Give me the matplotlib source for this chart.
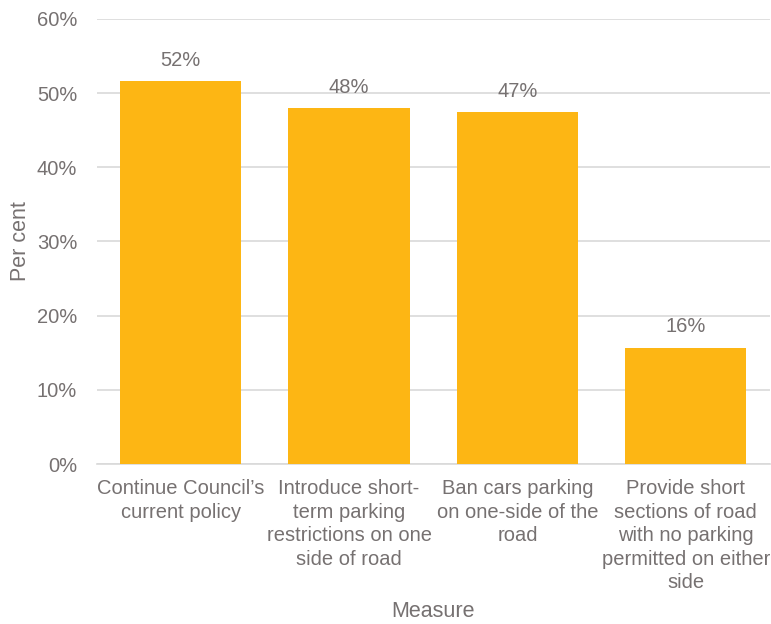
import matplotlib
matplotlib.use("Agg")
import matplotlib.pyplot as plt
from matplotlib.ticker import FuncFormatter

categories = [
    "Continue Council\u2019s\ncurrent policy",
    "Introduce short-\nterm parking\nrestrictions on one\nside of road",
    "Ban cars parking\non one-side of the\nroad",
    "Provide short\nsections of road\nwith no parking\npermitted on either\nside",
]
values = [51.6, 48.0, 47.4, 15.7]
y_ticks = [0, 10, 20, 30, 40, 50, 60]

bar_color = "#FDB614"
text_color = "#767171"
grid_color = "#D9D9D9"

plt.rcParams["font.family"] = ["Liberation Sans", "DejaVu Sans"]

fig = plt.figure(figsize=(7.71, 6.24), dpi=100)
ax = fig.add_axes([0.1252, 0.2564, 0.8735, 0.7132])

x = range(len(categories))
bars = ax.bar(x, values, width=0.72, color=bar_color, zorder=3)

for xi, v in zip(x, values):
    ax.text(xi, v + 1.5, f"{v:.0f}%", ha="center", va="bottom",
            fontsize=14.5, color=text_color)

ax.set_ylim(0, 60)
ax.set_xlim(-0.5, len(categories) - 0.5)
ax.set_yticks(y_ticks)
ax.yaxis.set_major_formatter(FuncFormatter(lambda v, _: f"{v:.0f}%"))
ax.set_xticks(list(x))
ax.set_xticklabels(categories, fontsize=14.5, color=text_color, linespacing=1.3)
ax.tick_params(axis="y", labelsize=14.5, labelcolor=text_color, length=0, pad=14)
ax.tick_params(axis="x", length=0, pad=11)

ax.grid(axis="y", color=grid_color, linewidth=1.2, zorder=0)
for s in ["top", "right", "left"]:
    ax.spines[s].set_visible(False)
ax.spines["bottom"].set_color(grid_color)
ax.spines["bottom"].set_linewidth(1.2)

ax.set_ylabel("Per cent", fontsize=15.5, color=text_color, labelpad=4)
ax.set_xlabel("Measure", fontsize=15.5, color=text_color, labelpad=6)

fig.savefig("out.png", dpi=100, facecolor="white")
